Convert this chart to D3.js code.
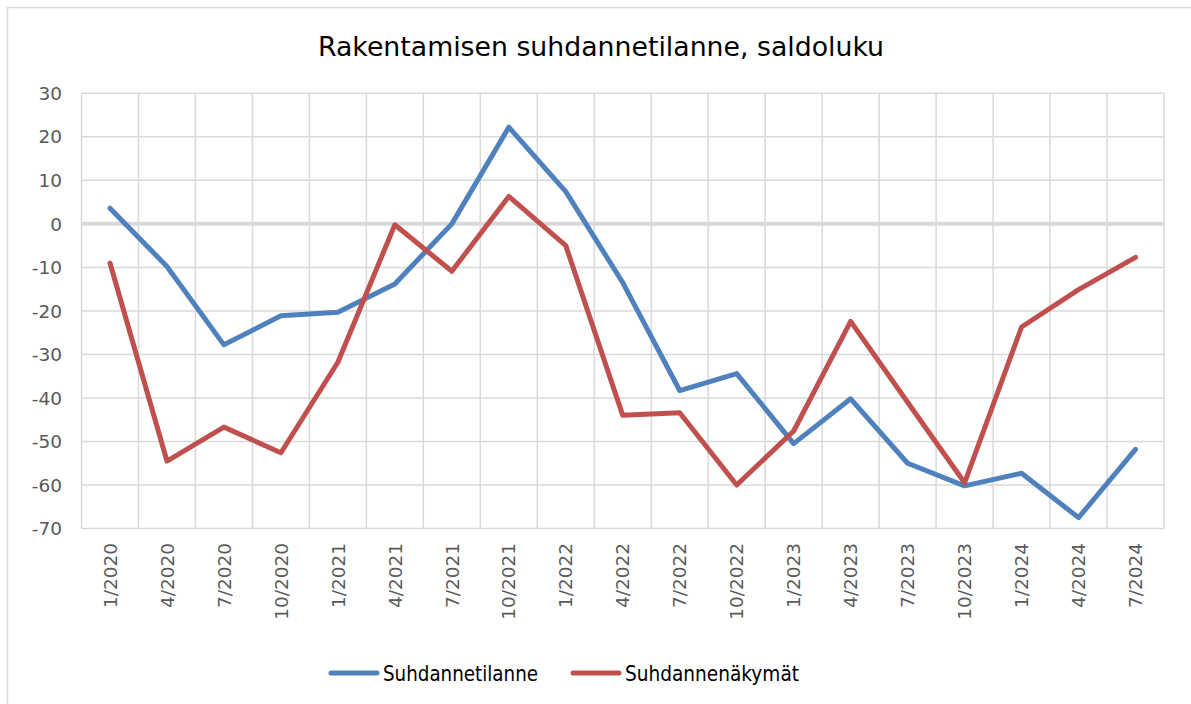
<!DOCTYPE html>
<html><head><meta charset="utf-8">
<script src="https://cdn.jsdelivr.net/npm/d3@7"></script>
<style>body{margin:0;background:#fff}svg{display:block}</style>
</head><body>
<script>
const categories = ["1/2020","4/2020","7/2020","10/2020","1/2021","4/2021","7/2021","10/2021","1/2022","4/2022","7/2022","10/2022","1/2023","4/2023","7/2023","10/2023","1/2024","4/2024","7/2024"];
const suhdannetilanne = [3.6,-9.8,-27.8,-21.1,-20.3,-13.8,0,22.2,7.4,-13.5,-38.3,-34.4,-50.5,-40.2,-55.0,-60.2,-57.3,-67.5,-51.8];
const suhdannenakymat = [-9.0,-54.5,-46.7,-52.6,-31.8,-0.2,-10.9,6.3,-5.0,-44.0,-43.4,-60.0,-47.6,-22.4,-41.0,-59.5,-23.7,-15.1,-7.7];
const yTicks = [30,20,10,0,-10,-20,-30,-40,-50,-60,-70];
const seriesNames = ["Suhdannetilanne","Suhdannenäkymät"];
const colors = ["#4F81BD","#C0504D"];
const title = "Rakentamisen suhdannetilanne, saldoluku";

const W=1191,H=704;
const m={left:81.5,right:1164,top:93.3,bottom:528.5};
const svg=d3.select("body").append("svg").attr("width",W).attr("height",H);
const font="DejaVu Sans, Verdana, sans-serif";

svg.append("rect").attr("x",7.5).attr("y",7.5).attr("width",W).attr("height",H).attr("fill","#fff").attr("stroke","#d9d9d9").attr("stroke-width",1.5);

const x=d3.scaleBand().domain(categories).range([m.left,m.right]);
const y=d3.scaleLinear().domain([-70,30]).range([m.bottom,m.top]);

svg.append("g").selectAll("line").data(yTicks.filter(d=>d!==0)).join("line")
  .attr("x1",m.left).attr("x2",m.right).attr("y1",d=>y(d)).attr("y2",d=>y(d))
  .attr("stroke","#d9d9d9").attr("stroke-width",1.5);
const bounds=categories.map(c=>x(c)).concat([m.right]);
svg.append("g").selectAll("line").data(bounds).join("line")
  .attr("x1",d=>d).attr("x2",d=>d).attr("y1",m.top).attr("y2",m.bottom)
  .attr("stroke","#d9d9d9").attr("stroke-width",1.5);
svg.append("line").attr("x1",m.left).attr("x2",m.right).attr("y1",y(0)).attr("y2",y(0))
  .attr("stroke","#d9d9d9").attr("stroke-width",4);

svg.append("g").selectAll("text").data(yTicks).join("text")
  .attr("x",62).attr("y",d=>y(d)).attr("dy","0.36em").attr("text-anchor","end")
  .attr("font-family",font).attr("font-size",18.5).attr("fill","#595959").text(d=>d);

svg.append("g").selectAll("text").data(categories).join("text")
  .attr("transform",d=>`translate(${x(d)+x.bandwidth()/2},543) rotate(-90)`)
  .attr("dy","0.36em").attr("text-anchor","end")
  .attr("font-family",font).attr("font-size",18.5).attr("fill","#595959").text(d=>d);

const line=d3.line().x((d,i)=>x(categories[i])+x.bandwidth()/2).y(d=>y(d));
[suhdannetilanne,suhdannenakymat].forEach((s,k)=>{
  svg.append("path").datum(s).attr("d",line).attr("fill","none")
    .attr("stroke",colors[k]).attr("stroke-width",5)
    .attr("stroke-linejoin","round").attr("stroke-linecap","round");
});

svg.append("text").attr("x",601).attr("y",56).attr("text-anchor","middle")
  .attr("font-family",font).attr("font-size",26).attr("fill","#000")
  .attr("textLength",566).attr("lengthAdjust","spacingAndGlyphs").text(title);

const leg=[{x1:331,x2:377,tx:383,tw:155},{x1:573,x2:619,tx:625,tw:174}];
leg.forEach((l,k)=>{
  svg.append("line").attr("x1",l.x1).attr("x2",l.x2).attr("y1",673).attr("y2",673)
    .attr("stroke",colors[k]).attr("stroke-width",5).attr("stroke-linecap","round");
  svg.append("text").attr("x",l.tx).attr("y",673).attr("dy","0.36em")
    .attr("font-family",font).attr("font-size",22).attr("fill","#000")
    .attr("textLength",l.tw).attr("lengthAdjust","spacingAndGlyphs").text(seriesNames[k]);
});
</script>
</body></html>
